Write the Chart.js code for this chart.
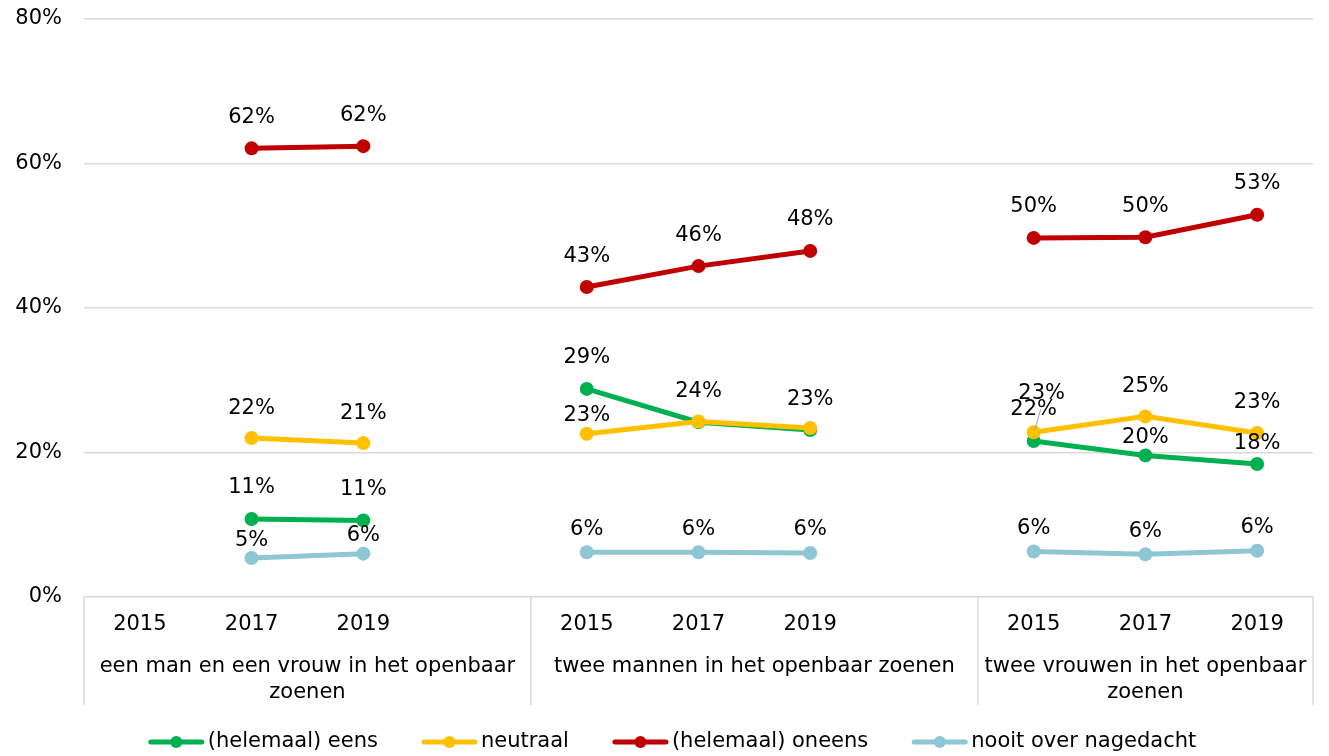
<!DOCTYPE html>
<html>
<head>
<meta charset="utf-8">
<script src="https://cdn.jsdelivr.net/npm/chart.js@4/dist/chart.umd.min.js"></script>
<style>
  html, body { margin: 0; padding: 0; background: #fff; }
  #wrap { width: 1329px; height: 756px; position: relative; }
</style>
</head>
<body>
<div id="wrap"><canvas id="chart"></canvas></div>
<script>
// Survey years per group; empty slots separate the three groups.
const years = ['2015', '2017', '2019', '', '2015', '2017', '2019', '', '2015', '2017', '2019'];

// Group captions (already broken into lines) and the slot range each covers.
const groupLines = [
  ['een man en een vrouw in het openbaar', 'zoenen'],
  ['twee mannen in het openbaar zoenen'],
  ['twee vrouwen in het openbaar', 'zoenen']
];
const groupStart = [0, 4, 8];
const groupEnd = [3, 7, 10];

const seriesNames = ['(helemaal) eens', 'neutraal', '(helemaal) oneens', 'nooit over nagedacht'];

// Percentages per slot
const eens     = [null, 10.8, 10.6, null, 28.8, 24.2, 23.1, null, 21.6, 19.6, 18.4];
const neutraal = [null, 22.0, 21.3, null, 22.6, 24.3, 23.4, null, 22.8, 25.0, 22.7];
const oneens   = [null, 62.1, 62.4, null, 42.9, 45.8, 47.9, null, 49.7, 49.8, 52.9];
const nooit    = [null, 5.4, 6.0, null, 6.2, 6.2, 6.1, null, 6.3, 5.9, 6.4];

const yTicks = [0, 20, 40, 60, 80];

const colors = ['#00B050', '#FFC000', '#C00000', '#8EC6D4'];
const FONT = '"DejaVu Sans", Verdana, sans-serif';
const FSIZE = 21;

// Vertical placement of value labels relative to their point (px)
const labelDefault = [-31, -30, -31, -23];
const labelNudge = {
  '0-9': { dy: -18 }, '0-10': { dy: -21 },
  '1-4': { dy: -18 }, '1-8': { dx: 8, dy: -39, leader: true },
  '3-1': { dy: -17 }, '3-2': { dy: -18 }
};

const valueLabels = {
  id: 'valueLabels',
  afterDatasetsDraw(chart) {
    const ctx = chart.ctx;
    ctx.save();
    ctx.font = FSIZE + 'px ' + FONT;
    ctx.fillStyle = '#000';
    ctx.textAlign = 'center';
    ctx.textBaseline = 'middle';
    const drawn = [];
    chart.data.datasets.forEach((ds, di) => {
      const meta = chart.getDatasetMeta(di);
      ds.data.forEach((v, i) => {
        if (v === null) return;
        const p = meta.data[i];
        const n = labelNudge[di + '-' + i] || {};
        const dx = n.dx || 0;
        const dy = n.dy !== undefined ? n.dy : labelDefault[di];
        const txt = Math.round(v) + '%';
        const lx = p.x + dx, ly = p.y + dy;
        // identical labels sitting on top of each other are drawn once
        if (drawn.some(d => d.t === txt && Math.abs(d.x - lx) < 4 && Math.abs(d.y - ly) < 6)) return;
        drawn.push({ t: txt, x: lx, y: ly });
        if (n.leader) {
          ctx.strokeStyle = '#A6A6A6';
          ctx.lineWidth = 1;
          ctx.beginPath();
          ctx.moveTo(p.x + 1, p.y - 2);
          ctx.lineTo(lx - 1, ly + 16);
          ctx.stroke();
        }
        ctx.fillText(txt, lx, ly);
      });
    });
    ctx.restore();
  }
};

const groupAxis = {
  id: 'groupAxis',
  afterDraw(chart) {
    const ctx = chart.ctx;
    const x = chart.scales.x;
    const area = chart.chartArea;
    const slot = x.getPixelForValue(1) - x.getPixelForValue(0);
    const bottom = 705;
    ctx.save();
    ctx.strokeStyle = '#D9D9D9';
    ctx.lineWidth = 1.5;
    const edges = [];
    groupStart.forEach((s, g) => {
      const l = x.getPixelForValue(s) - slot / 2;
      const r = x.getPixelForValue(groupEnd[g]) + slot / 2;
      edges.push(l);
      if (g === groupStart.length - 1) edges.push(r);
      ctx.font = FSIZE + 'px ' + FONT;
      ctx.fillStyle = '#000';
      ctx.textAlign = 'center';
      ctx.textBaseline = 'middle';
      groupLines[g].forEach((line, k) => {
        ctx.fillText(line, (l + r) / 2, 667 + k * 26);
      });
    });
    edges.forEach(e => {
      ctx.beginPath();
      ctx.moveTo(e, area.bottom);
      ctx.lineTo(e, bottom);
      ctx.stroke();
    });

    // Legend: line with marker followed by series name
    ctx.font = FSIZE + 'px ' + FONT;
    ctx.textBaseline = 'middle';
    ctx.textAlign = 'left';
    const lineW = 55, gapText = 4, gapItem = 44, ly = 742;
    let total = 0;
    const widths = seriesNames.map(s => ctx.measureText(s).width);
    widths.forEach((w, i) => { total += lineW + gapText + w + (i ? gapItem : 0); });
    let cx = chart.width / 2 + 8 - total / 2;
    seriesNames.forEach((s, i) => {
      ctx.strokeStyle = colors[i];
      ctx.lineWidth = 5;
      ctx.lineCap = 'round';
      ctx.beginPath();
      ctx.moveTo(cx + 2, ly);
      ctx.lineTo(cx + lineW - 2, ly);
      ctx.stroke();
      ctx.fillStyle = colors[i];
      ctx.beginPath();
      ctx.arc(cx + lineW / 2, ly, 6, 0, Math.PI * 2);
      ctx.fill();
      ctx.fillStyle = '#000';
      ctx.fillText(s, cx + lineW + gapText, ly);
      cx += lineW + gapText + widths[i] + gapItem;
    });
    ctx.restore();
  }
};

const mk = (i, data, order) => ({
  label: seriesNames[i],
  data: data,
  borderColor: colors[i],
  backgroundColor: colors[i],
  borderWidth: 5,
  pointRadius: 7,
  pointHoverRadius: 7,
  pointBorderWidth: 0,
  tension: 0,
  spanGaps: false,
  order: order
});

new Chart(document.getElementById('chart'), {
  type: 'line',
  data: {
    labels: years,
    datasets: [mk(0, eens, 4), mk(1, neutraal, 3), mk(2, oneens, 2), mk(3, nooit, 1)]
  },
  options: {
    responsive: true,
    maintainAspectRatio: false,
    animation: false,
    layout: { padding: { top: 19, right: 16, left: 0, bottom: 0 } },
    plugins: { legend: { display: false }, tooltip: { enabled: false } },
    scales: {
      x: {
        offset: true,
        grid: { display: false, drawTicks: false },
        border: { display: false },
        ticks: {
          color: '#000',
          font: { family: FONT, size: FSIZE },
          padding: 15,
          maxRotation: 0,
          autoSkip: false
        },
        afterFit(s) { s.height = 159; s.paddingLeft = 0; s.paddingRight = 0; }
      },
      y: {
        min: 0,
        max: 80,
        afterBuildTicks(s) { s.ticks = yTicks.map(v => ({ value: v })); },
        grid: { color: '#D9D9D9', lineWidth: 1.5, drawTicks: false },
        border: { display: false },
        ticks: {
          color: '#000',
          font: { family: FONT, size: FSIZE },
          padding: 22,
          callback: v => v + '%'
        },
        afterFit(s) { s.width = 84; s.paddingTop = 0; s.paddingBottom = 0; }
      }
    }
  },
  plugins: [valueLabels, groupAxis]
});
</script>
</body>
</html>
